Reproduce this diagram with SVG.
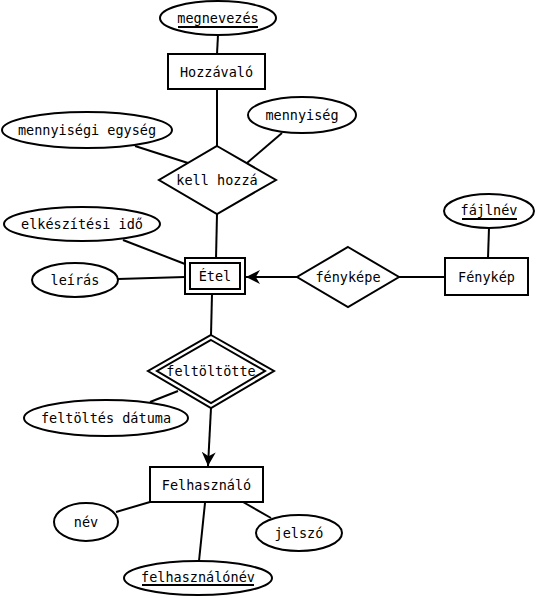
<svg xmlns="http://www.w3.org/2000/svg" width="537" height="598" viewBox="0 0 537 598">
<style>
.s{fill:#fff;stroke:#000;stroke-width:2}
.c line{stroke:#000;stroke-width:2}
text{font-family:"DejaVu Sans Mono",monospace;font-size:13.5px;text-anchor:middle;dominant-baseline:central;fill:#000}
.u{stroke:#000;stroke-width:2}
</style>
<defs>
<marker id="a" viewBox="0 0 10 10" refX="10" refY="5" markerWidth="14" markerHeight="14" markerUnits="userSpaceOnUse" orient="auto"><path d="M0,0 L10,5 L0,10 L3,5 Z" fill="#000"/></marker>
</defs>
<g class="c">
<line x1="218" y1="35" x2="217" y2="54"/>
<line x1="217" y1="89" x2="217" y2="146"/>
<line x1="135" y1="146" x2="188" y2="163"/>
<line x1="282" y1="133" x2="247" y2="163"/>
<line x1="217" y1="214" x2="216" y2="259"/>
<line x1="123" y1="240" x2="185" y2="264"/>
<line x1="118" y1="279" x2="185" y2="277"/>
<line x1="297" y1="277" x2="246" y2="277" marker-end="url(#a)"/>
<line x1="399" y1="277" x2="445" y2="277"/>
<line x1="489" y1="228" x2="488" y2="258"/>
<line x1="212" y1="294" x2="211" y2="335"/>
<line x1="150" y1="402" x2="178" y2="391"/>
<line x1="211" y1="408" x2="208" y2="466" marker-end="url(#a)"/>
<line x1="116" y1="512" x2="150" y2="502"/>
<line x1="243" y1="502" x2="271" y2="518"/>
<line x1="205" y1="503" x2="199" y2="561"/>
</g>
<g id="megnevezes"><ellipse class="s" cx="218" cy="18" rx="58" ry="17"/><text x="218" y="18">megnevezés</text><line class="u" x1="178" y1="27" x2="258" y2="27"/></g>
<g id="hozzavalo"><rect class="s" x="168" y="54" width="97" height="35"/><text x="216.5" y="72">Hozzávaló</text></g>
<g id="kellhozza"><polygon class="s" points="217,146 276,180 217,214 159,180"/><text x="217" y="180">kell hozzá</text></g>
<g id="mennyisegiegyseg"><ellipse class="s" cx="87" cy="130" rx="85" ry="18"/><text x="87" y="130">mennyiségi egység</text></g>
<g id="mennyiseg"><ellipse class="s" cx="302" cy="115" rx="54" ry="18"/><text x="302" y="115">mennyiség</text></g>
<g id="elkeszitesiido"><ellipse class="s" cx="82" cy="224" rx="78" ry="17"/><text x="82" y="224">elkészítési idő</text></g>
<g id="leiras"><ellipse class="s" cx="75" cy="280" rx="43" ry="17"/><text x="75" y="280">leírás</text></g>
<g id="etel"><rect class="s" x="185" y="258" width="60" height="36"/><rect class="s" x="190" y="263" width="50" height="26"/><text x="215" y="276">Étel</text></g>
<g id="fenykepe"><polygon class="s" points="348,247 399,277 348,307 297,277"/><text x="348" y="277">fényképe</text></g>
<g id="fenykep"><rect class="s" x="445" y="258" width="83" height="37"/><text x="486.5" y="277">Fénykép</text></g>
<g id="fajlnev"><ellipse class="s" cx="489" cy="211" rx="45" ry="17"/><text x="489" y="210">fájlnév</text><line class="u" x1="462" y1="219" x2="517" y2="219"/></g>
<g id="feltoltotte"><polygon class="s" points="211,335 274,371 211,408 148,371"/><polygon class="s" points="211,340 265,371 211,403 157,371"/><text x="211" y="371">feltöltötte</text></g>
<g id="feltoltesdatuma"><ellipse class="s" cx="106" cy="418" rx="82" ry="18"/><text x="106" y="418">feltöltés dátuma</text></g>
<g id="felhasznalo"><rect class="s" x="150" y="467" width="113" height="35"/><text x="206.5" y="485">Felhasználó</text></g>
<g id="nev"><ellipse class="s" cx="86" cy="522" rx="32" ry="19"/><text x="86" y="522">név</text></g>
<g id="jelszo"><ellipse class="s" cx="299" cy="533" rx="43" ry="18"/><text x="299" y="533">jelszó</text></g>
<g id="felhasznalonev"><ellipse class="s" cx="198" cy="578" rx="74" ry="17"/><text x="198" y="577">felhasználónév</text><line class="u" x1="142" y1="585" x2="254" y2="585"/></g>
</svg>
